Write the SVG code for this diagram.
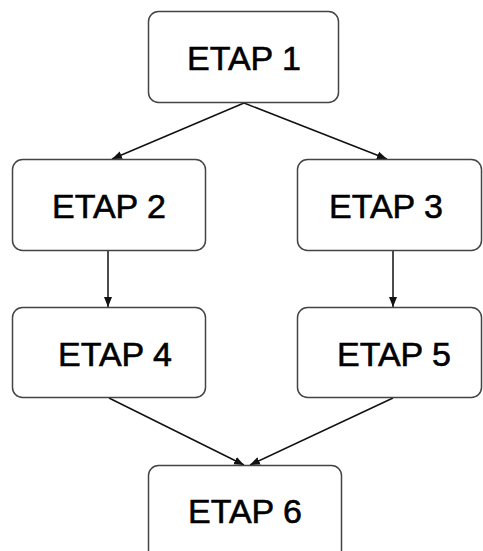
<svg xmlns="http://www.w3.org/2000/svg" width="483" height="551" viewBox="0 0 483 551">
<style>
.box{fill:#fff;stroke:#444;stroke-width:1.5}
.lbl{font-family:"Liberation Sans",Arial,sans-serif;font-size:34px;fill:#000;stroke:#000;stroke-width:0.6}
.con{stroke:#111;stroke-width:1.5;fill:none;marker-end:url(#ah)}
</style>
<defs>
<marker id="ah" viewBox="0 0 10 10" refX="10" refY="5" markerWidth="10" markerHeight="10" markerUnits="userSpaceOnUse" orient="auto">
<path d="M0,1 L10,5 L0,9 Z" fill="#111"/>
</marker>
</defs>
<rect width="483" height="551" fill="#fff"/>
<g id="connectors">
<line class="con" x1="244" y1="103" x2="112" y2="159"/>
<line class="con" x1="244" y1="103" x2="387" y2="159"/>
<line class="con" x1="108" y1="251" x2="108" y2="307"/>
<line class="con" x1="393" y1="251" x2="393" y2="307"/>
<line class="con" x1="109" y1="398" x2="244" y2="465"/>
<line class="con" x1="393" y1="398" x2="250" y2="465"/>
</g>
<g id="n1"><rect class="box" x="148.5" y="11.5" width="190" height="91" rx="10"/><text class="lbl" x="244" y="70" text-anchor="middle">ETAP 1</text></g>
<g id="n2"><rect class="box" x="12.5" y="159.5" width="193" height="91" rx="10"/><text class="lbl" x="109" y="218" text-anchor="middle">ETAP 2</text></g>
<g id="n3"><rect class="box" x="297.5" y="159.5" width="184" height="91" rx="10"/><text class="lbl" x="386" y="218" text-anchor="middle">ETAP 3</text></g>
<g id="n4"><rect class="box" x="12.5" y="307.5" width="193" height="90" rx="10"/><text class="lbl" x="115" y="366" text-anchor="middle">ETAP 4</text></g>
<g id="n5"><rect class="box" x="297.5" y="307.5" width="184" height="90" rx="10"/><text class="lbl" x="394" y="366" text-anchor="middle">ETAP 5</text></g>
<g id="n6"><rect class="box" x="148.5" y="465.5" width="193" height="100" rx="10"/><text class="lbl" x="245" y="523" text-anchor="middle">ETAP 6</text></g>
</svg>
